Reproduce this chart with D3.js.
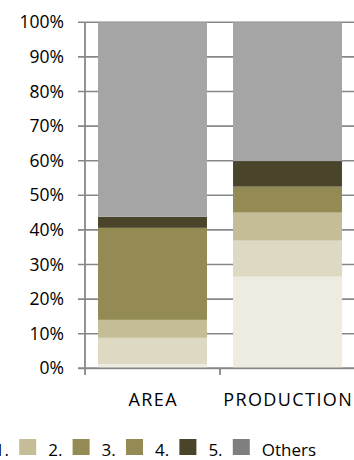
<!DOCTYPE html>
<html>
<head>
<meta charset="utf-8">
<script src="https://cdn.jsdelivr.net/npm/d3@7"></script>
<style>
	body { margin: 0; background: #fff; }
	svg { display: block; font-family: "Open Sans", sans-serif; }
</style>
</head>
<body>
<svg id="chart" width="354" height="460"></svg>
<script>
// values in percent
const categories = ["AREA", "PRODUCTION"];
const seriesNames = ["1.", "2.", "3.", "4.", "5.", "Others"];
const share1 = [1.2, 26.5];
const share2 = [7.6, 10.4];
const share3 = [5.2, 8.1];
const share4 = [26.6, 7.5];
const share5 = [3.2, 7.4];
const shareOthers = [56.2, 40.1];
const yTicks = [0, 10, 20, 30, 40, 50, 60, 70, 80, 90, 100];

const barColors = ["#EEECE1", "#DDD9C3", "#C4BD97", "#948A54", "#4A452A", "#A5A5A5"];
const legendColors = ["#EEECE1", "#C4BD97", "#948A54", "#948A54", "#4A452A", "#7F7F7F"];

const allSeries = [share1, share2, share3, share4, share5, shareOthers];
const rows = categories.map((c, i) => {
	const row = { category: c };
	seriesNames.forEach((s, j) => row[s] = allSeries[j][i]);
	return row;
});

const svg = d3.select("#chart");

const x = d3.scaleBand()
	.domain(categories)
	.range([85, 355])
	.paddingInner(0.193)
	.paddingOuter(0.0965);

const y = d3.scaleLinear()
	.domain([0, 100])
	.range([368.3, 22.3]);

const axisColor = "#878787";

// gridlines (with the little outside tick)
svg.append("g")
	.selectAll("line")
	.data(yTicks)
	.join("line")
	.attr("x1", 78)
	.attr("x2", 355)
	.attr("y1", d => y(d))
	.attr("y2", d => y(d))
	.attr("stroke", axisColor)
	.attr("stroke-width", 1.6);

const stacked = d3.stack().keys(seriesNames)(rows);

svg.append("g")
	.selectAll("g")
	.data(stacked)
	.join("g")
	.attr("fill", (d, i) => barColors[i])
	.selectAll("rect")
	.data(d => d)
	.join("rect")
	.attr("x", d => x(d.data.category))
	.attr("width", x.bandwidth())
	.attr("y", d => y(d[1]))
	.attr("height", d => y(d[0]) - y(d[1]));

// axes
svg.append("line")
	.attr("x1", 85).attr("x2", 85)
	.attr("y1", y(100)).attr("y2", 375)
	.attr("stroke", axisColor)
	.attr("stroke-width", 1.8);

svg.append("line")
	.attr("x1", 78).attr("x2", 355)
	.attr("y1", y(0)).attr("y2", y(0))
	.attr("stroke", axisColor)
	.attr("stroke-width", 1.8);

svg.append("g")
	.selectAll("line")
	.data(categories.slice(1))
	.join("line")
	.attr("x1", d => x(d) - x.step() * x.paddingInner() / 2)
	.attr("x2", d => x(d) - x.step() * x.paddingInner() / 2)
	.attr("y1", y(0))
	.attr("y2", 375)
	.attr("stroke", axisColor)
	.attr("stroke-width", 1.8);

svg.append("g")
	.selectAll("text")
	.data(yTicks)
	.join("text")
	.attr("x", 64)
	.attr("y", d => y(d) + 6)
	.attr("text-anchor", "end")
	.attr("font-size", 17.5)
	.attr("fill", "#000")
	.text(d => d + "%");

svg.append("g")
	.selectAll("text")
	.data(categories)
	.join("text")
	.attr("x", d => x(d) + x.bandwidth() / 2 + 0.7)
	.attr("y", 406)
	.attr("text-anchor", "middle")
	.attr("font-size", 18)
	.attr("letter-spacing", 1.4)
	.attr("fill", "#000")
	.text(d => d);

// legend, cut off on the left like the source
const legend = svg.append("g")
	.selectAll("g")
	.data(seriesNames)
	.join("g")
	.attr("transform", (d, i) => `translate(${-34.2 + i * 53.4},0)`);

legend.append("rect")
	.attr("x", 0)
	.attr("y", 439)
	.attr("width", 17)
	.attr("height", 16)
	.attr("fill", (d, i) => legendColors[i]);

legend.append("text")
	.attr("x", 29)
	.attr("y", 456)
	.attr("font-size", 17)
	.attr("fill", "#000")
	.text(d => d);
</script>
</body>
</html>
